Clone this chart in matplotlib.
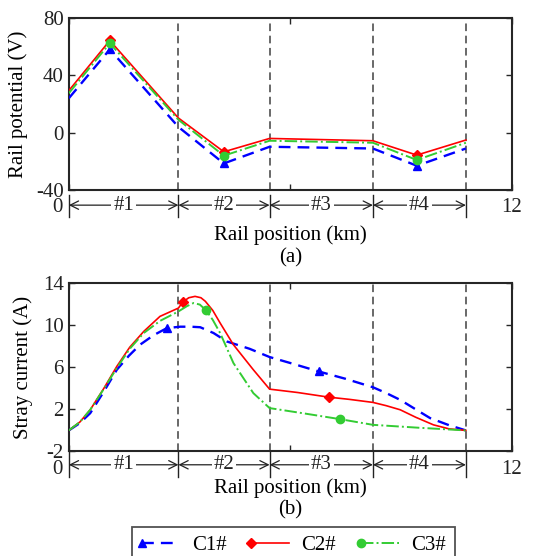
import matplotlib.pyplot as plt
import matplotlib.transforms as mtransforms

plt.rcParams['font.family'] = ['Liberation Serif', 'DejaVu Serif']
plt.rcParams['font.size'] = 15
plt.rcParams['axes.unicode_minus'] = False

# substation / section boundaries (km)
bounds = [0, 2.97, 5.44, 8.24, 10.76]
sections = ['#1', '#2', '#3', '#4']

# (a) rail potential (V)
pot_x = [0, 1.11, 2.97, 4.2, 5.44, 8.24, 9.43, 10.76]
pot_c1 = [24, 58, 4, -21.4, -9.8, -11, -23, -11]
pot_c2 = [29.3, 64.2, 10.2, -13.3, -4, -5.6, -15.6, -5.1]
pot_c3 = [27.5, 62.3, 9, -16, -5.6, -7, -19, -7]
pot_marks = [1, 3, 6]

# (b) stray current (A)
c1_x = [0, 0.3, 0.58, 0.95, 1.3, 1.63, 1.93, 2.3, 2.66, 3.02, 3.3, 3.56, 3.92, 4.28, 4.9, 5.44,
        6.1, 6.77, 7.5, 8.24, 8.6, 8.98, 9.4, 9.79, 10.3, 10.76]
c1_y = [0, 0.7, 1.64, 3.7, 5.76, 7.1, 8.14, 9.05, 9.72, 9.85, 9.85, 9.8, 9.25, 8.45, 7.75, 6.97,
        6.3, 5.6, 4.9, 4.1, 3.55, 2.9, 2.0, 1.17, 0.5, 0]
c1_marks = [8, 17]

c2_x = [0, 0.3, 0.58, 0.95, 1.3, 1.65, 2.03, 2.47, 2.97, 3.09, 3.25, 3.42, 3.58, 3.7, 3.9, 4.1,
        4.46, 5.0, 5.44, 6.2, 7.04, 7.6, 8.24, 8.6, 8.98, 9.4, 9.88, 10.3, 10.76]
c2_y = [0, 0.8, 1.96, 4.0, 6.08, 7.9, 9.4, 10.83, 11.62, 12.2, 12.6, 12.73, 12.6, 12.26, 11.4, 10.2,
        8.14, 5.76, 3.92, 3.6, 3.16, 2.95, 2.66, 2.35, 1.96, 1.25, 0.53, 0.15, 0]
c2_marks = [9, 20]

c3_x = [0, 0.3, 0.58, 0.95, 1.3, 1.65, 2.03, 2.47, 2.97, 3.2, 3.38, 3.55, 3.72, 3.9, 4.1, 4.46,
        5.0, 5.44, 6.4, 7.35, 8.24, 9.5, 10.76]
c3_y = [0, 0.8, 1.96, 3.95, 5.92, 7.75, 9.25, 10.4, 11.3, 11.8, 12.1, 11.95, 11.4, 10.5, 9.25, 6.4,
        3.54, 2.12, 1.6, 1.07, 0.53, 0.25, 0]
c3_marks = [12, 19]

blue = '#0000FF'
red = '#FF0000'
green = '#33CC33'
axcol = '#262626'

fig = plt.figure(figsize=(5.42, 5.56), dpi=100)
ax1 = fig.add_axes([0.127, 0.658, 0.817, 0.310])
ax2 = fig.add_axes([0.127, 0.188, 0.817, 0.303])


def style_axes(ax, ylim, yticks, arrow_y, bar_lo, bar_hi):
    ax.set_xlim(0, 12)
    ax.set_ylim(*ylim)
    ax.set_yticks(yticks)
    ax.set_xticks([0, 6, 12])
    labels = ax.set_xticklabels(['0 ', '', '12'])
    labels[0].set_horizontalalignment('right')
    ax.tick_params(direction='in', length=4, width=1, top=True, right=True,
                   colors=axcol, labelcolor='#222222', labelsize=15)
    ax.tick_params(axis='x', pad=6)
    for s in ax.spines.values():
        s.set_color(axcol)
        s.set_linewidth(1.5)
    trans = mtransforms.blended_transform_factory(ax.transData, ax.transAxes)
    for b in bounds[1:]:
        ax.axvline(b, color='#404040', ls=(0, (5, 3)), lw=1.1, zorder=1)
    for b in bounds:
        ax.plot([b, b], [bar_lo, bar_hi], color='#222222', lw=1.0,
                transform=trans, clip_on=False)
    for i, name in enumerate(sections):
        a, b = bounds[i], bounds[i + 1]
        ax.annotate('', xy=(a, arrow_y), xytext=(b, arrow_y), xycoords=trans,
                    textcoords=trans,
                    arrowprops=dict(arrowstyle='<->', lw=0.9, color='#222222',
                                    shrinkA=0, shrinkB=0, mutation_scale=15))
        ax.text((a + b) / 2, arrow_y, name, transform=trans, ha='center', va='center',
                fontsize=15, color='#222222',
                bbox=dict(facecolor='white', edgecolor='none', pad=1.5))


# (a)
ax1.plot(pot_x, pot_c1, color=blue, ls=(0, (5, 3)), lw=1.7, marker='^', ms=6,
         markevery=pot_marks, zorder=3)
ax1.plot(pot_x, pot_c2, color=red, ls='-', lw=1.2, marker='D', ms=5,
         markevery=pot_marks, zorder=3)
ax1.plot(pot_x, pot_c3, color=green, ls='-.', lw=1.4, marker='o', ms=6,
         markevery=pot_marks, zorder=3)
style_axes(ax1, (-40, 80), [-40, 0, 40, 80], -0.087, -0.03, -0.155)
ax1.set_ylabel('Rail potential (V)')
ax1.yaxis.set_label_coords(-0.093, 0.5)
ax1.set_xlabel('Rail position (km)')
ax1.xaxis.label.set_va('center')
ax1.xaxis.set_label_coords(0.5, -0.26)
ax1.text(0.5, -0.39, '(a)', transform=ax1.transAxes, ha='center', va='center')

# (b)
l1, = ax2.plot(c1_x, c1_y, color=blue, ls=(0, (5, 3)), lw=1.7, marker='^', ms=6,
               markevery=c1_marks, zorder=3, label='C1#')
l2, = ax2.plot(c2_x, c2_y, color=red, ls='-', lw=1.2, marker='D', ms=5,
               markevery=c2_marks, zorder=3, label='C2#')
l3, = ax2.plot(c3_x, c3_y, color=green, ls='-.', lw=1.4, marker='o', ms=6,
               markevery=c3_marks, zorder=3, label='C3#')
style_axes(ax2, (-2, 14), [-2, 2, 6, 10, 14], -0.079, 0.0, -0.149)
ax2.set_ylabel('Stray current (A)')
ax2.yaxis.set_label_coords(-0.08, 0.5)
ax2.set_xlabel('Rail position (km)')
ax2.xaxis.label.set_va('center')
ax2.xaxis.set_label_coords(0.5, -0.215)
ax2.text(0.5, -0.345, '(b)', transform=ax2.transAxes, ha='center', va='center')

leg = fig.legend(handles=[l1, l2, l3], loc='upper center', bbox_to_anchor=(0.542, 0.053),
                 ncol=3, frameon=True, fancybox=False, edgecolor=axcol, numpoints=1,
                 handlelength=1.8, handletextpad=0.6, columnspacing=1.2, borderpad=0.45,
                 borderaxespad=0, fontsize=15)
leg.get_frame().set_linewidth(1.3)
for h in leg.get_lines():
    h.set_markevery([0])

fig.savefig('out.png', dpi=100)
